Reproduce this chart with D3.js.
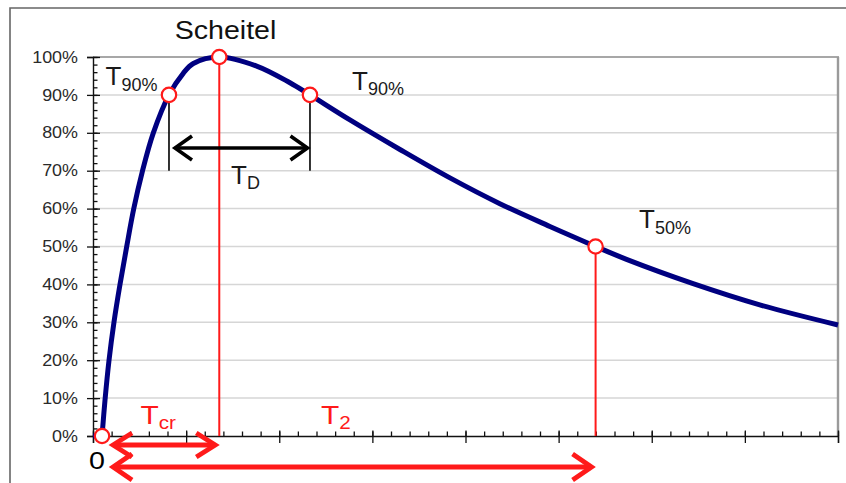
<!DOCTYPE html>
<html>
<head>
<meta charset="utf-8">
<script src="https://cdn.jsdelivr.net/npm/d3@7"></script>
<style>
  html, body { margin: 0; padding: 0; background: #fff; }
  svg { display: block; font-family: "Liberation Sans", Arial, sans-serif; }
</style>
</head>
<body>
<svg id="chart" width="846" height="483"></svg>
<script>
// Concentration-time curve (relative to peak), time in hours
const timeValues  = [0, 0.097, 0.129, 0.172, 0.225, 0.290, 0.362, 0.438, 0.529, 0.647, 0.816, 0.969, 1.077, 1.356,
                     1.757, 2.115, 2.330, 2.759, 3.296, 3.833, 4.369, 4.906, 5.397, 5.729, 6.444, 7.160, 8.0];
const levelValues = [0, 0, 9.5, 20, 30, 40, 50, 60, 69.7, 79.9, 90, 95.7, 98.3, 100,
                     97.6, 93.2, 90, 83.4, 75.6, 68.1, 61.3, 55.3, 50, 46.6, 40.2, 34.6, 29.3];

// Marked points: onset, T90% (rise), peak, T90% (fall), T50%
const markerTimes  = [0.097, 0.816, 1.356, 2.330, 5.397];
const markerLevels = [0, 90, 100, 90, 50];

// Axis ticks
const yTickValues = [0, 10, 20, 30, 40, 50, 60, 70, 80, 90, 100];
const yTickLabels = ["0%", "10%", "20%", "30%", "40%", "50%", "60%", "70%", "80%", "90%", "100%"];
const yMinorValues = [0, 2, 4, 6, 8, 10, 12, 14, 16, 18, 20, 22, 24, 26, 28, 30, 32, 34, 36, 38, 40, 42, 44, 46, 48,
                      50, 52, 54, 56, 58, 60, 62, 64, 66, 68, 70, 72, 74, 76, 78, 80, 82, 84, 86, 88, 90, 92, 94, 96, 98, 100];
const xTickValues = [0, 1, 2, 3, 4, 5, 6, 7, 8];
const xMinorValues = [0, 0.2, 0.4, 0.6, 0.8, 1, 1.2, 1.4, 1.6, 1.8, 2, 2.2, 2.4, 2.6, 2.8, 3, 3.2, 3.4, 3.6, 3.8,
                      4, 4.2, 4.4, 4.6, 4.8, 5, 5.2, 5.4, 5.6, 5.8, 6, 6.2, 6.4, 6.6, 6.8, 7, 7.2, 7.4, 7.6, 7.8, 8];

// Level at which the duration arrow T_D is drawn
const durationArrowLevel = 76;
const durationGuideLevel = 70;

const svg = d3.select("#chart");
const plot = { left: 93, right: 838, top: 57, bottom: 436 };

const x = d3.scaleLinear().domain([0, 8]).range([plot.left, plot.right]);
const y = d3.scaleLinear().domain([0, 100]).range([plot.bottom, plot.top]);

// Outer frame
svg.append("path")
  .attr("d", `M10,490 L10,8 L850,8`)
  .attr("fill", "none").attr("stroke", "#666").attr("stroke-width", 1.6);

// Horizontal gridlines
svg.append("g").selectAll("line")
  .data(yTickValues.filter(v => v > 0 && v < 100))
  .join("line")
  .attr("x1", plot.left).attr("x2", plot.right)
  .attr("y1", d => y(d)).attr("y2", d => y(d))
  .attr("stroke", "#d6d6d6").attr("stroke-width", 1.5);

// Plot area border (top, right)
svg.append("line")
  .attr("x1", plot.left).attr("x2", plot.right + 1)
  .attr("y1", plot.top).attr("y2", plot.top)
  .attr("stroke", "#8a8a8a").attr("stroke-width", 1.6);
svg.append("line")
  .attr("x1", plot.right).attr("x2", plot.right)
  .attr("y1", plot.top).attr("y2", plot.bottom)
  .attr("stroke", "#9a9a9a").attr("stroke-width", 2.4);

// Y axis: outside major ticks with labels, inside major and minor ticks
const yAxisG = svg.append("g").attr("transform", `translate(${plot.left},0)`);
yAxisG.append("g")
  .call(d3.axisLeft(y).tickValues(yMinorValues).tickSize(-4.5).tickFormat(""))
  .call(g => g.select(".domain").remove());
yAxisG.append("g")
  .call(d3.axisLeft(y).tickValues(yTickValues).tickSize(-7).tickFormat(""))
  .call(g => g.select(".domain").remove());
yAxisG.append("g")
  .call(d3.axisLeft(y).tickValues(yTickValues).tickSize(6).tickPadding(9)
        .tickFormat((d, i) => yTickLabels[i]))
  .call(g => g.select(".domain").attr("stroke", "#111").attr("stroke-width", 1.4))
  .call(g => g.selectAll("text")
        .attr("font-size", 16).attr("fill", "#2a2a2a")
        .attr("x", -15 / 1.12)
        .attr("transform", "scale(1.12,1)"));
yAxisG.selectAll(".tick line").attr("stroke", "#111").attr("stroke-width", 1.3);

// X axis: major ticks crossing the axis, minor ticks inside
const xAxisG = svg.append("g").attr("transform", `translate(0,${plot.bottom})`);
xAxisG.append("g")
  .call(d3.axisBottom(x).tickValues(xMinorValues).tickSize(-4.5).tickFormat(""))
  .call(g => g.select(".domain").remove());
xAxisG.append("g")
  .call(d3.axisBottom(x).tickValues(xTickValues).tickSize(-5.5).tickFormat(""))
  .call(g => g.select(".domain").remove());
xAxisG.append("g")
  .call(d3.axisBottom(x).tickValues(xTickValues).tickSize(7).tickFormat(""))
  .call(g => g.select(".domain").attr("stroke", "#111").attr("stroke-width", 1.4));
xAxisG.selectAll(".tick line").attr("stroke", "#111").attr("stroke-width", 1.3);

const [tOn, t90a, tPeak, t90b, t50] = markerTimes;
const [lOn, l90a, lPeak, l90b, l50] = markerLevels;

// Red guides from peak and T50% down to the time axis
const guides = svg.append("g").attr("stroke", "#ff1a1a").attr("stroke-width", 2);
guides.append("line").attr("x1", x(tPeak)).attr("x2", x(tPeak)).attr("y1", y(lPeak)).attr("y2", y(0));
guides.append("line").attr("x1", x(t50)).attr("x2", x(t50)).attr("y1", y(l50)).attr("y2", y(0));

// Black guides from the two T90% points
const blackGuides = svg.append("g").attr("stroke", "#000").attr("stroke-width", 1.6);
blackGuides.append("line").attr("x1", x(t90a)).attr("x2", x(t90a)).attr("y1", y(l90a)).attr("y2", y(durationGuideLevel));
blackGuides.append("line").attr("x1", x(t90b)).attr("x2", x(t90b)).attr("y1", y(l90b)).attr("y2", y(durationGuideLevel));

// Double-headed arrow with open chevron heads
function doubleArrow(xa, xb, yy, color, width, hl, hh) {
  const g = svg.append("g")
    .attr("fill", "none").attr("stroke", color).attr("stroke-width", width)
    .attr("stroke-linejoin", "miter").attr("stroke-miterlimit", 10);
  g.append("line").attr("x1", xa + 2).attr("x2", xb - 2).attr("y1", yy).attr("y2", yy);
  g.append("path").attr("d", `M${xa + hl},${yy - hh} L${xa},${yy} L${xa + hl},${yy + hh}`);
  g.append("path").attr("d", `M${xb - hl},${yy - hh} L${xb},${yy} L${xb - hl},${yy + hh}`);
}

doubleArrow(x(t90a) + 6, x(t90b) - 2.5, y(durationArrowLevel), "#000", 3.6, 17, 12);
doubleArrow(x(tOn) + 11, x(tPeak) - 4, plot.bottom + 9, "#ff1a1a", 4.8, 19, 12);
doubleArrow(x(tOn) + 11, x(t50) - 4, plot.bottom + 31, "#ff1a1a", 4.8, 19, 13);

// Curve: flat lag phase up to onset, then smooth rise and decay
const points = timeValues.map((t, i) => [x(t), y(levelValues[i])]);
const onsetIndex = timeValues.indexOf(tOn);
const curvePath = d3.line().curve(d3.curveCatmullRom.alpha(0.5));
const lagPath = d3.line();
const curveG = svg.append("g")
  .attr("fill", "none")
  .attr("stroke", "#000080")
  .attr("stroke-width", 5)
  .attr("stroke-linejoin", "round");
curveG.append("path").attr("d", lagPath(points.slice(0, onsetIndex + 1)));
curveG.append("path").attr("d", curvePath(points.slice(onsetIndex)));

// Marker circles
svg.append("g").selectAll("circle")
  .data(markerTimes)
  .join("circle")
  .attr("cx", d => x(d))
  .attr("cy", (d, i) => y(markerLevels[i]))
  .attr("r", 7.2)
  .attr("fill", "#fff")
  .attr("stroke", "#ff1a1a")
  .attr("stroke-width", 2.2);

// Labels with subscripts
function label(px, py, main, sub, opts) {
  const o = Object.assign({ fill: "#111", size: 26, subSize: 18, dy: 5.5, sx: 1, anchor: "start" }, opts || {});
  const t = svg.append("text")
    .attr("transform", `translate(${px},${py}) scale(${o.sx},1)`)
    .attr("fill", o.fill)
    .attr("text-anchor", o.anchor);
  t.append("tspan").attr("font-size", o.size).text(main);
  if (sub) t.append("tspan").attr("font-size", o.subSize).attr("dy", o.dy).text(sub);
  return t;
}

label(225.5, 39, "Scheitel", null, { size: 26, sx: 1.1, anchor: "middle", fill: "#111" });
label(105.5, 85, "T", "90%", { fill: "#1a1a1a" });
label(352, 89.5, "T", "90%", { fill: "#1a1a1a" });
label(639, 228, "T", "50%", { fill: "#1a1a1a" });
label(231, 183.5, "T", "D", { fill: "#1a1a1a", dy: 5 });
label(140.5, 423.5, "T", "cr", { fill: "#ff1a1a", sx: 1.15, dy: 5 });
label(321, 423.5, "T", "2", { fill: "#ff1a1a", sx: 1.15, dy: 5 });
label(97, 468.5, "0", null, { size: 23.5, sx: 1.22, anchor: "middle", fill: "#000" });
</script>
</body>
</html>
